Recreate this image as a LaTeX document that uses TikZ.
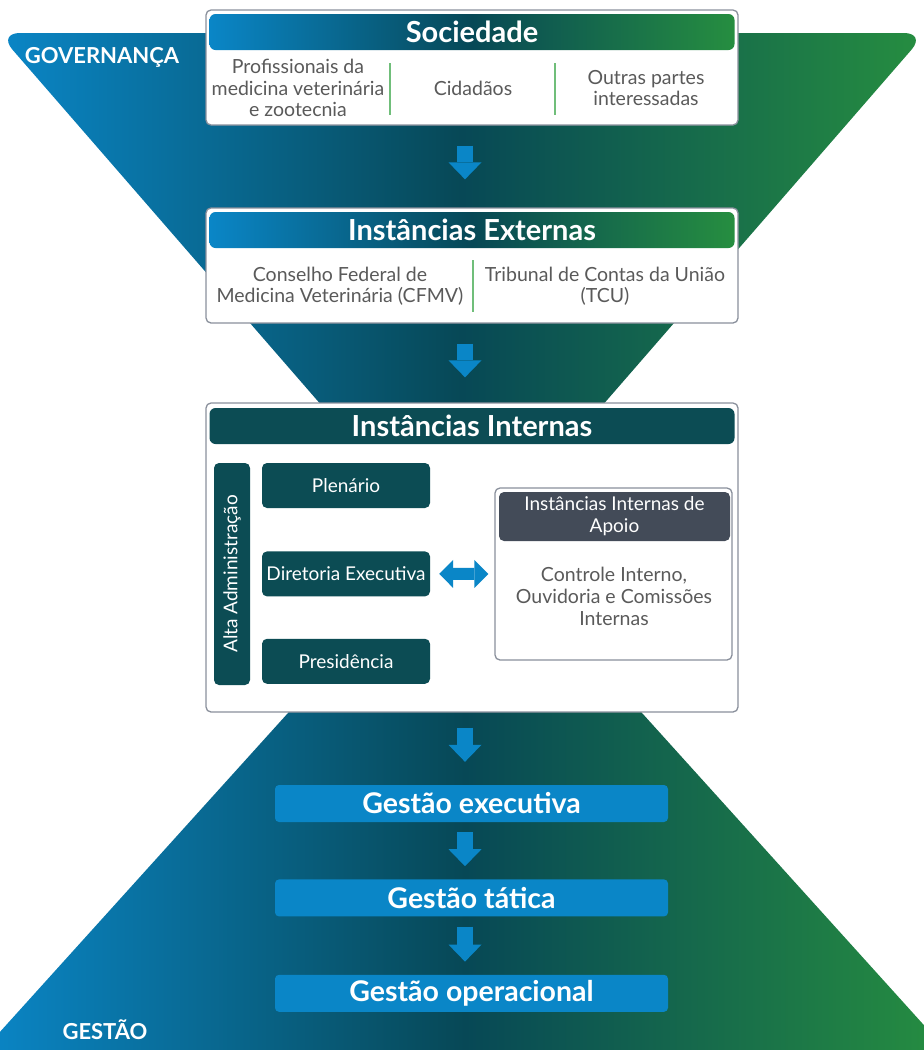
\documentclass[tikz,border=0pt]{standalone}
\usepackage{fontspec}
\setmainfont{Lato}
\usetikzlibrary{arrows.meta,positioning}

\definecolor{azul}{RGB}{10,134,199}
\definecolor{petroleo}{RGB}{7,72,86}
\definecolor{verde}{RGB}{38,142,64}
\definecolor{borda}{RGB}{138,144,156}
\definecolor{textocinza}{RGB}{90,90,90}
\definecolor{linhaverde}{RGB}{112,190,122}
\definecolor{tealescuro}{RGB}{12,76,84}
\definecolor{ardosia}{RGB}{67,75,88}

\begin{document}
\begin{tikzpicture}[x=1pt,y=-1pt,
    degrade/.style={left color=azul,right color=verde,middle color=petroleo},
    caixa/.style={draw=borda,line width=1.3pt,fill=white,rounded corners=5pt,minimum width=532pt,inner sep=0pt},
    cabec/.style={rounded corners=6pt,text=white,inner sep=0pt,minimum width=525pt,minimum height=36pt,font=\bfseries\fontsize{29}{32}\selectfont},
    item/.style={text=textocinza,align=center,font=\fontsize{19.5}{21.5}\selectfont},
    bloco/.style={fill=tealescuro,rounded corners=5pt,text=white,minimum width=168pt,minimum height=45pt,inner sep=0pt,font=\fontsize{19}{22}\selectfont},
    gestao/.style={fill=azul,rounded corners=4pt,text=white,minimum width=393pt,minimum height=37pt,inner sep=0pt,font=\bfseries\fontsize{28.5}{30}\selectfont},
    rotulo/.style={text=white,font=\bfseries\fontsize{22}{26}\selectfont},
    seta/.style={draw=azul,line width=16pt,-{Triangle[width=33pt,length=17pt,line width=0pt]}},
    setadupla/.style={draw=azul,line width=12pt,{Triangle[width=28pt,length=14pt,line width=0pt]}-{Triangle[width=28pt,length=14pt,line width=0pt]}},
    sep/.style={draw=linhaverde,line width=1.5pt}]

    \useasboundingbox (0,0) rectangle (924,1050);
    % funis de fundo
    \shade[degrade,rounded corners=22pt] (-2,33) -- (926,33) -- (462,567) -- cycle;
    \shade[degrade,rounded corners=22pt] (465,517) -- (950,1054) -- (-20,1054) -- cycle;

    \node[rotulo] (gov) at (102,57) {GOVERNANÇA};
    \node[rotulo] (gest) at (105,1030) {GESTÃO};

    \node[caixa,minimum height=115pt] (soc) at (472,67.5) {};
    \node[cabec,degrade] (socCab) at (472,32) {Sociedade};
    \node[item] (prof) at (298,88) {Profissionais da\\medicina veterinária\\e zootecnia};
    \node[item] (cid) at (473,88) {Cidadãos};
    \node[item] (outras) at (646,88) {Outras partes\\interessadas};
    \draw[sep] (390,63) -- (390,115);
    \draw[sep] (555,63) -- (555,115);

    \node[caixa,minimum height=115pt] (ext) at (472,265.5) {};
    \node[cabec,degrade] (extCab) at (472,230) {Instâncias Externas};
    \node[item] (cfmv) at (340,286) {Conselho Federal de\\Medicina Veterinária (CFMV)};
    \node[item] (tcu) at (605,286) {Tribunal de Contas da União\\(TCU)};
    \draw[sep] (473,260) -- (473,312);

    \node[caixa,minimum height=309pt] (int) at (472,557.5) {};
    \node[cabec,fill=tealescuro] (intCab) at (472,426) {Instâncias Internas};
    \node[bloco,rotate=90,minimum width=222pt,minimum height=36pt] (alta) at (232,574) {Alta Administração};
    \node[bloco] (plen) at (346,485.5) {Plenário};
    \node[bloco,below=43pt of plen] (dir) {Diretoria Executiva};
    \node[bloco,below=42pt of dir] (pres) {Presidência};

    \node[caixa,minimum width=237pt,minimum height=172pt] (apoio) at (613.5,574) {};
    \node[bloco,fill=ardosia,minimum width=231pt,minimum height=49pt,align=center] (apoioCab) at (614.5,516.5) {Instâncias Internas de\\Apoio};
    \node[item,font=\fontsize{19.5}{22}\selectfont] (controle) at (614,596) {Controle Interno,\\Ouvidoria e Comissões\\Internas};

    \node[gestao] (gexec) at (471.5,803.5) {Gestão executiva};
    \node[gestao,below=57pt of gexec] (gtat) {Gestão tática};
    \node[gestao,below=58pt of gtat] (gop) {Gestão operacional};

    \draw[seta,shorten <=20pt,shorten >=28pt] ([xshift=-7pt]soc.south) -- ([xshift=-7pt]ext.north);
    \draw[seta,shorten <=20pt,shorten >=25pt] ([xshift=-7pt]ext.south) -- ([xshift=-7pt]int.north);
    \draw[seta,shorten <=15pt,shorten >=23pt] ([xshift=-7pt]int.south) -- ([xshift=-6.5pt]gexec.north);
    \draw[seta,shorten <=10pt,shorten >=13pt] ([xshift=-6.5pt]gexec.south) -- ([xshift=-6.5pt]gtat.north);
    \draw[seta,shorten <=10pt,shorten >=13pt] ([xshift=-6.5pt]gtat.south) -- ([xshift=-6.5pt]gop.north);
    \draw[setadupla,shorten <=9pt,shorten >=6pt] (dir.east) -- (apoio.west);
\end{tikzpicture}
\end{document}
